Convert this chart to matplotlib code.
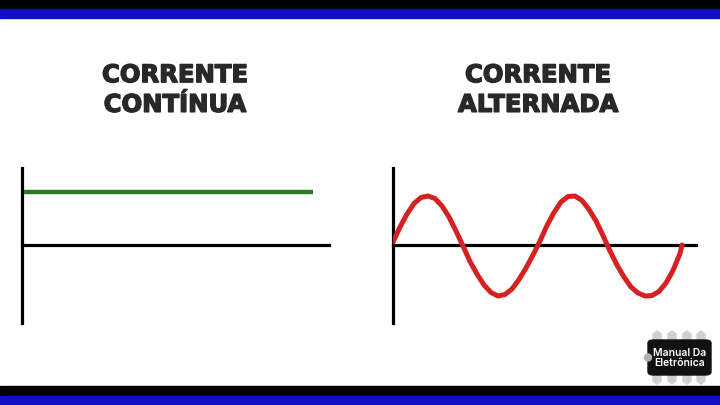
import matplotlib.pyplot as plt
from matplotlib import patches
import matplotlib.patheffects as pe

# DATA
TITLES = ["CORRENTE\nCONTÍNUA", "CORRENTE\nALTERNADA"]
LOGO_TEXT = "Manual Da\nEletrônica"

# corrente contínua: valor constante (ms, A)
dc_t = [0.3, 41.6]
dc_i = [1.06, 1.06]

# corrente alternada: leituras do gráfico (ms, A)
ac_t = [0, 1, 2, 3, 4, 5, 6, 7, 8, 9, 10,
        11, 12, 13, 14, 15, 16, 17, 18, 19, 20, 21,
        22, 23, 24, 25, 26, 27, 28, 29, 30, 31,
        32, 33, 34, 35, 36, 37, 38, 39, 40, 41, 41.3]
ac_i = [0.06, 0.36, 0.62, 0.83, 0.95, 0.98, 0.93, 0.78, 0.56, 0.28, -0.02,
        -0.33, -0.58, -0.80, -0.95, -1.02, -0.99, -0.88, -0.69, -0.46, -0.20, 0.08,
        0.39, 0.65, 0.86, 0.97, 0.98, 0.89, 0.71, 0.48, 0.19, -0.12,
        -0.40, -0.64, -0.84, -0.96, -1.02, -1.01, -0.93, -0.76, -0.51, -0.17, 0.0]

W, H = 720, 405
BLUE = "#1010c0"
GREEN = "#2a7a2a"
RED = "#d42222"
TITLE_COLOR = "#282828"


def fx(px):
    return px / W


def fy(py):
    return 1 - py / H


fig = plt.figure(figsize=(7.2, 4.05), dpi=100)
fig.patch.set_facecolor("white")

# faixas superior e inferior
for y0, y1, c in [(0, 9, "black"), (9, 18, BLUE), (386, 396, "black"), (396, 405, BLUE)]:
    fig.patches.append(patches.Rectangle((0, fy(y1)), 1, (y1 - y0) / H,
                                         transform=fig.transFigure, color=c, zorder=0))


def panel(x0, x1, title_x, title):
    ax = fig.add_axes([fx(x0), fy(323), fx(x1 - x0), (323 - 168) / H])
    ax.set_xlim(0, (x1 - x0) / 7)
    ax.set_ylim(-(323 - 245) / 50, (245 - 168) / 50)
    ax.set_facecolor("none")
    for s in ["top", "right"]:
        ax.spines[s].set_visible(False)
    ax.spines["left"].set_position(("data", 0))
    ax.spines["bottom"].set_position(("data", 0))
    for s in ["left", "bottom"]:
        ax.spines[s].set_linewidth(2.3)
        ax.spines[s].set_color("black")
    ax.set_xticks([])
    ax.set_yticks([])
    fig.text(fx(title_x), fy(90), title, ha="center", va="center",
             fontsize=17.5, fontweight="bold", family="DejaVu Sans",
             color=TITLE_COLOR, linespacing=1.3,
             path_effects=[pe.withStroke(linewidth=1.0, foreground=TITLE_COLOR)])
    return ax


ax1 = panel(22, 329, 175, TITLES[0])
ax1.plot(dc_t, dc_i, color=GREEN, lw=3.2, solid_capstyle="butt", zorder=3)

ax2 = panel(393, 696, 538, TITLES[1])
ax2.plot(ac_t, ac_i, color=RED, lw=3.6, solid_capstyle="round",
         solid_joinstyle="round", zorder=3)

# logo
for px in [657, 672, 687, 701]:
    for top, sign in [(331, 1), (384, -1)]:
        pts = [(px - 4, top + sign * 3), (px, top), (px + 4, top + sign * 3),
               (px + 4, top + sign * 10), (px - 4, top + sign * 10)]
        fig.patches.append(patches.Polygon([(fx(a), fy(b)) for a, b in pts],
                                           transform=fig.transFigure,
                                           color="#d0d0d0", zorder=1))
fig.patches.append(patches.FancyBboxPatch((fx(648), fy(375)), fx(63), (375 - 340) / H,
                                          boxstyle="round,pad=0,rounding_size=0.008",
                                          transform=fig.transFigure,
                                          color="#111111", zorder=2))
fig.patches.append(patches.Ellipse((fx(648), fy(357.5)), fx(7), 7 / H,
                                   transform=fig.transFigure, color="#b0b0b0", zorder=3))
fig.text(fx(680), fy(358), LOGO_TEXT, ha="center", va="center", color="white",
         fontsize=7.5, family="Inter", fontweight="semibold",
         linespacing=1.0, zorder=4)

fig.savefig("out.png", dpi=100)
